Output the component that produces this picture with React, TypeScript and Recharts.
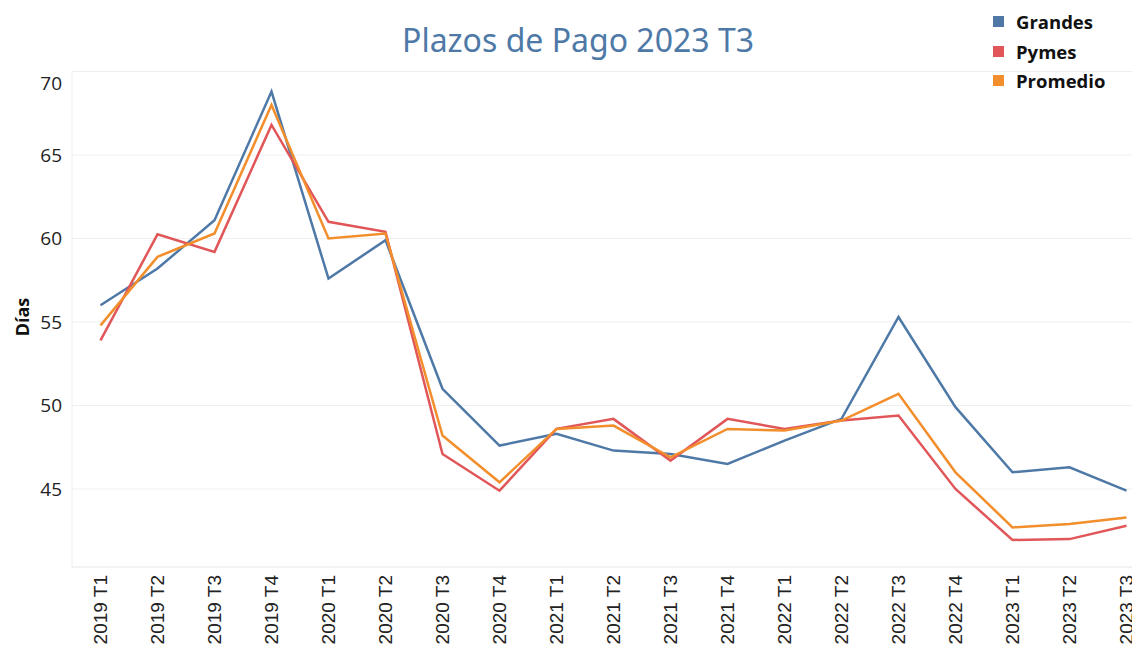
import { LineChart, Line, XAxis, YAxis, CartesianGrid } from 'recharts';

/* ── Data ── */
const quarters = [
  '2019 T1', '2019 T2', '2019 T3', '2019 T4',
  '2020 T1', '2020 T2', '2020 T3', '2020 T4',
  '2021 T1', '2021 T2', '2021 T3', '2021 T4',
  '2022 T1', '2022 T2', '2022 T3', '2022 T4',
  '2023 T1', '2023 T2', '2023 T3',
];
const grandes = [56.0, 58.2, 61.1, 68.8, 57.6, 59.9, 51.0, 47.6, 48.3, 47.3, 47.1, 46.5, 47.9, 49.2, 55.3, 49.9, 46.0, 46.3, 44.9];
const pymes = [53.9, 60.25, 59.2, 66.8, 61.0, 60.4, 47.1, 44.9, 48.6, 49.2, 46.7, 49.2, 48.6, 49.1, 49.4, 45.0, 41.95, 42.0, 42.8];
const promedio = [54.8, 58.9, 60.3, 68.0, 60.0, 60.3, 48.2, 45.4, 48.6, 48.8, 46.9, 48.6, 48.5, 49.1, 50.7, 46.0, 42.7, 42.9, 43.3];
const yTicks = [45, 50, 55, 60, 65, 70];

const series = [
  { key: 'grandes', name: 'Grandes', color: '#4e79a7' },
  { key: 'pymes', name: 'Pymes', color: '#e15759' },
  { key: 'promedio', name: 'Promedio', color: '#f28e2b' },
];

const data = quarters.map((q, i) => ({
  q, grandes: grandes[i], pymes: pymes[i], promedio: promedio[i],
}));

/* ── Ticks ── */
const YTick = ({ x, y, payload }: any) => (
  <text x={x - 2} y={payload.value === 70 ? y + 12 : y} dy="0.35em" textAnchor="end"
    fill="#222" fontSize={19} fontFamily="'Open Sans', sans-serif">
    {payload.value}
  </text>
);

const XTick = ({ x, y, payload }: any) => (
  <text x={x} y={y} transform={`rotate(-90, ${x}, ${y})`} dy="0.35em" textAnchor="end"
    fill="#222" fontSize={19} fontFamily="'Liberation Sans', Arial, sans-serif">
    {payload.value}
  </text>
);

export default function App() {
  return (
    <div style={{ position: 'absolute', left: 0, top: 0, width: 1132, height: 648, overflow: 'hidden', background: '#fff' }}>
      <div style={{
        position: 'absolute', left: 0, width: 1156, top: 19, textAlign: 'center',
        fontFamily: "'Noto Sans', sans-serif", fontSize: 32, color: '#4e79a7', lineHeight: '42px',
      }}>
        Plazos de Pago 2023 T3
      </div>

      {/* ── Legend ── */}
      <div style={{ position: 'absolute', left: 993, top: 7, fontFamily: "'Open Sans', sans-serif", fontWeight: 700, fontSize: 18.5, color: '#111' }}>
        {series.map((s) => (
          <div key={s.key} style={{ display: 'flex', alignItems: 'center', height: 29.5 }}>
            <span style={{ width: 11, height: 11, background: s.color, display: 'inline-block', marginRight: 12 }} />
            {s.name}
          </div>
        ))}
      </div>

      <div style={{
        position: 'absolute', left: 22, top: 317, transform: 'translate(-50%, -50%) rotate(-90deg)',
        fontFamily: "'Open Sans', sans-serif", fontWeight: 700, fontSize: 18, color: '#111', whiteSpace: 'nowrap',
      }}>
        Días
      </div>

      <LineChart width={1160} height={648} data={data} margin={{ top: 71.5, right: 5, left: 0, bottom: 0 }}>
        <CartesianGrid stroke="#efefef" vertical={false} />
        <XAxis dataKey="q" height={81} interval={0} tick={<XTick />} tickLine={false}
          axisLine={{ stroke: '#eeeeee' }} padding={{ left: 28.5, right: 28.5 }} />
        <YAxis width={72} domain={[40.33, 70]} ticks={yTicks} allowDataOverflow
          tick={<YTick />} tickLine={false} axisLine={{ stroke: '#eeeeee' }} />
        {series.map((s) => (
          <Line key={s.key} dataKey={s.key} name={s.name} stroke={s.color} strokeWidth={2.5}
            dot={false} type="linear" isAnimationActive={false} />
        ))}
      </LineChart>
    </div>
  );
}
